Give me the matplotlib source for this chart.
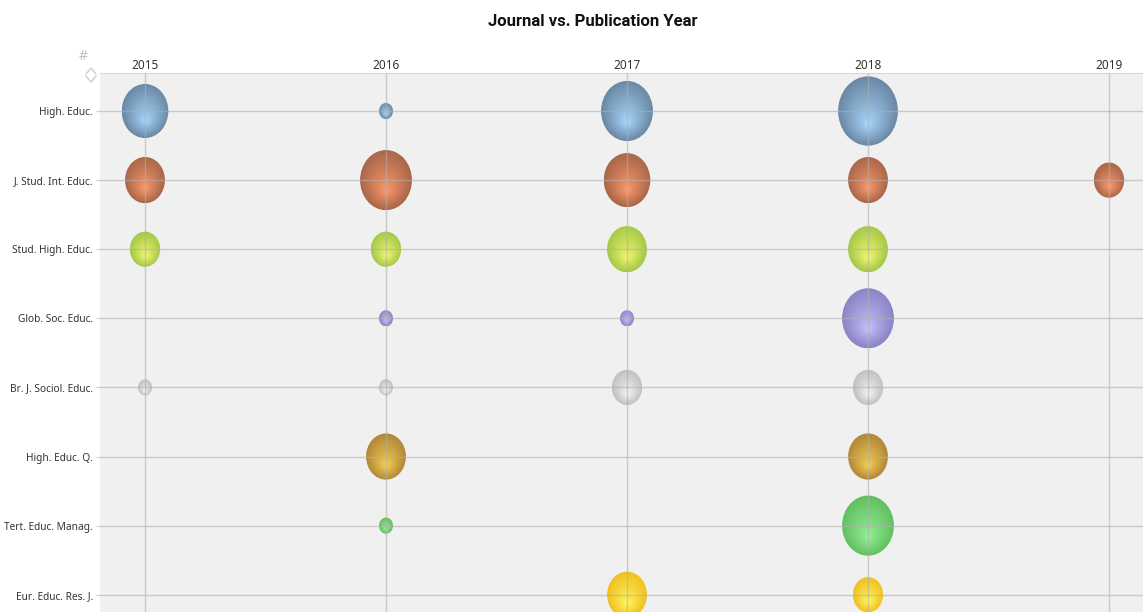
import numpy as np
import matplotlib
matplotlib.use("Agg")
import matplotlib.pyplot as plt
from matplotlib.patches import Ellipse
from matplotlib.lines import Line2D
from matplotlib.colors import to_rgb

plt.rcParams['font.family'] = ['Noto Sans', 'DejaVu Sans']

years = [2015, 2016, 2017, 2018, 2019]
journals = ["High. Educ.", "J. Stud. Int. Educ.", "Stud. High. Educ.",
            "Glob. Soc. Educ.", "Br. J. Sociol. Educ.", "High. Educ. Q.",
            "Tert. Educ. Manag.", "Eur. Educ. Res. J."]

# publication counts per journal, one entry per year (0 = none)
high_educ = [4, 1, 5, 7, 0]
j_stud_int = [3, 5, 4, 3, 2]
stud_high = [2, 2, 3, 3, 0]
glob_soc = [0, 1, 1, 5, 0]
br_j_sociol = [1, 1, 2, 2, 0]
high_educ_q = [0, 3, 0, 3, 0]
tert_educ = [0, 1, 0, 5, 0]
eur_educ = [0, 0, 3, 2, 0]
counts = [high_educ, j_stud_int, stud_high, glob_soc,
          br_j_sociol, high_educ_q, tert_educ, eur_educ]

# (edge colour, highlight colour) per journal
edge_cols = ["#6a88a4", "#a8664a", "#a4c848", "#8a84c4",
             "#c0c0c0", "#b08838", "#60c060", "#f0c020"]
glow_cols = ["#a8d8ff", "#ff9a6a", "#f4f870", "#c8c0ff",
             "#f6f6f6", "#f8d050", "#98f098", "#fff860"]

W, H = 1143, 612
fig = plt.figure(figsize=(W / 100, H / 100), dpi=100)
ax = fig.add_axes([100 / W, 0, 1043 / W, 539 / H])
ax.set_facecolor("#f0f0f0")
xlim = (2015 - 45 / 241, 2019 + 34 / 241)
ylim = (7.25, -0.55)

px_x = 1043 / (xlim[1] - xlim[0])
px_y = 539 / (ylim[0] - ylim[1])


def bubble(cx, cy, n, c_edge, c_glow):
    w = 14 + 23.5 * np.log(n)
    h = 1.16 * w
    hw, hh = w / 2 / px_x, h / 2 / px_y
    N = 120
    u, v = np.meshgrid(np.linspace(-1, 1, N), np.linspace(-1, 1, N))
    fc = 0.4
    du, dv = u, v - fc
    d = np.hypot(du, dv) + 1e-9
    vy = dv / d
    fd = fc * vy
    s = -fd + np.sqrt(fd ** 2 - fc ** 2 + 1)
    t = np.clip(d / s, 0, 1) ** 0.9
    e, g = np.array(to_rgb(c_edge)), np.array(to_rgb(c_glow))
    img = g[None, None, :] * (1 - t[..., None]) + e[None, None, :] * t[..., None]
    el = Ellipse((cx, cy), 2 * hw, 2 * hh, facecolor="none", edgecolor="none")
    ax.add_patch(el)
    im = ax.imshow(img, extent=(cx - hw, cx + hw, cy + hh, cy - hh),
                   origin="upper", aspect="auto", zorder=2, interpolation="bilinear")
    im.set_clip_path(el)


for r, row in enumerate(counts):
    for yr, n in zip(years, row):
        if n > 0:
            bubble(yr, r, n, edge_cols[r], glow_cols[r])

for yr in years:
    ax.axvline(yr, color="#b0b0b0", lw=1, alpha=0.6, zorder=3)
for r in range(len(journals)):
    ax.axhline(r, color="#b0b0b0", lw=1, alpha=0.6, zorder=3)

ax.set_xlim(xlim)
ax.set_ylim(ylim)
ax.xaxis.tick_top()
ax.set_xticks(years)
ax.set_xticklabels([str(y) for y in years], fontsize=8.5, color="#333333")
ax.set_yticks(range(len(journals)))
ax.set_yticklabels(journals, fontsize=7.3, color="#333333")
ax.tick_params(axis="x", length=0, pad=1)
ax.tick_params(axis="y", length=3, color="#d0d0d0", pad=2)
for side in ["left", "right", "bottom"]:
    ax.spines[side].set_visible(False)
ax.spines["top"].set_color("#d8d8d8")

fig.text(593 / W, 1 - 21 / H, "Journal vs. Publication Year", ha="center",
         va="center", fontsize=12, fontweight="bold", color="#111111",
         family=["Roboto", "DejaVu Sans"])
fig.text(83 / W, 1 - 56 / H, "#", ha="center", va="center", fontsize=10,
         color="#c0c0c0")
for pts in ([(86, 74), (91, 68), (96, 74)], [(86, 76), (91, 82), (96, 76)]):
    xs = [p[0] / W for p in pts]
    ys = [1 - p[1] / H for p in pts]
    fig.add_artist(Line2D(xs, ys, transform=fig.transFigure, color="#c8c8c8", lw=0.9))

fig.savefig("out.png", dpi=100)
